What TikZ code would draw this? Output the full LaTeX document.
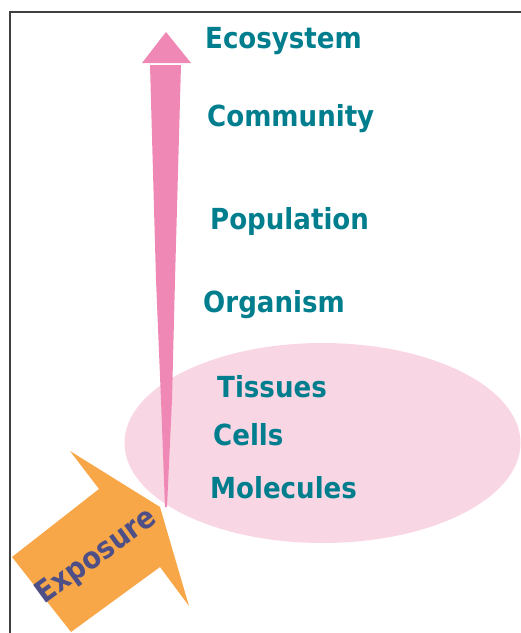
\documentclass[tikz,border=0pt]{standalone}
\usepackage{fontspec}
\setmainfont{DejaVu Sans}
\newfontfamily\levelfont{DejaVu Sans Condensed Bold}
\usepackage{tikz}
\usepackage{xcolor}
\definecolor{cTeal}{RGB}{0,126,142}
\definecolor{cPink}{RGB}{240,136,181}
\definecolor{cBlush}{RGB}{249,214,228}
\definecolor{cOrange}{RGB}{248,167,72}
\definecolor{cSlate}{RGB}{78,79,134}
\definecolor{cFrame}{RGB}{64,64,64}
\tikzset{
  levelnode/.style={anchor=base west,inner sep=0pt,text=cTeal,
                    font=\levelfont\fontsize{29}{34}\selectfont},
  expnode/.style={inner sep=0pt,text=cSlate,rotate=36,
                  font=\levelfont\fontsize{30}{34}\selectfont},
  framelines/.style={draw=cFrame,line width=2pt},
  pinkfill/.style={fill=cPink,draw=none},
  orangefill/.style={fill=cOrange,draw=none}
}

\begin{document}
\begin{tikzpicture}[x=1pt,y=-1pt]
  \useasboundingbox (0,0) rectangle (521,633);

  % frame
  \draw[framelines] (10,633) -- (10,12) -- (521,12);

  % cell level
  \fill[cBlush] (322.5,443) ellipse [x radius=198, y radius=100];

  % exposure
  \fill[orangefill] (12,557) -- (99,489) -- (70,451) -- (160,507)
      -- (189,606) -- (160,567) -- (71,632) -- cycle;
  \node[expnode] (exposure) at (97,557) {Exposure};

  % rising arrow
  \fill[pinkfill] (166,32) -- (191,63) -- (142,63) -- cycle;
  \fill[pinkfill] (150,65) -- (181,65) -- (175,280) -- (172,400)
      -- (167,507) -- (165,507) -- (161,400) -- (156,280) -- cycle;

  % levels
  \node[levelnode] (ecosystem)  at (205,48)  {Ecosystem};
  \node[levelnode] (community)  at (207,126) {Community};
  \node[levelnode] (population) at (210,229) {Population};
  \node[levelnode] (organism)   at (203,312) {Organism};
  \node[levelnode] (tissues)    at (217,397) {Tissues};
  \node[levelnode] (cells)      at (213,445) {Cells};
  \node[levelnode] (molecules)  at (210,498) {Molecules};

\end{tikzpicture}
\end{document}
